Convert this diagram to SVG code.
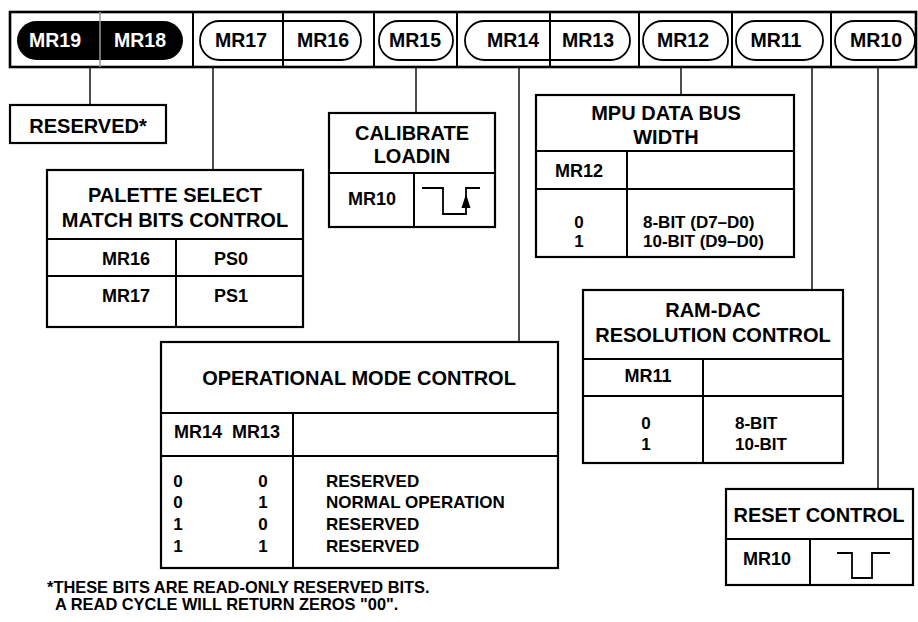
<svg xmlns="http://www.w3.org/2000/svg" width="918" height="622" viewBox="0 0 918 622">
<style>
text{font-family:"Liberation Sans",Arial,sans-serif;font-weight:bold;fill:#000}
.pill{font-size:19.5px;text-anchor:middle}
.ttl{font-size:20px;text-anchor:middle}
.hdr{font-size:18px;text-anchor:middle}
.dat{font-size:17px}
.c{text-anchor:middle}
.box{fill:#fff;stroke:#000;stroke-width:2.2}
.ln{stroke:#000;stroke-width:2;fill:none}
.con{stroke:#000;stroke-width:1.4;fill:none}
.wave{stroke:#000;stroke-width:1.8;fill:none}
.note{font-size:16.4px}
</style>
<rect width="918" height="622" fill="#fff"/>
<g id="register-bar">
<rect x="10" y="12" width="906" height="55" fill="#fff" stroke="#000" stroke-width="2.6"/>
<rect x="17" y="21" width="166" height="39" rx="19.5" fill="#000"/>
<rect x="200" y="21" width="161" height="39" rx="19.5" fill="none" stroke="#000" stroke-width="1.8"/>
<rect x="379" y="21" width="74" height="39" rx="19.5" fill="none" stroke="#000" stroke-width="1.8"/>
<rect x="465" y="21" width="165" height="39" rx="19.5" fill="none" stroke="#000" stroke-width="1.8"/>
<rect x="643" y="21" width="85" height="39" rx="19.5" fill="none" stroke="#000" stroke-width="1.8"/>
<rect x="736" y="21" width="87" height="39" rx="19.5" fill="none" stroke="#000" stroke-width="1.8"/>
<rect x="835" y="21" width="80" height="39" rx="19.5" fill="none" stroke="#000" stroke-width="1.8"/>
<line x1="100" y1="12" x2="100" y2="67" stroke="#999" stroke-width="1.5"/>
<g class="ln">
<line x1="193" y1="12" x2="193" y2="67"/>
<line x1="283" y1="12" x2="283" y2="67"/>
<line x1="374" y1="12" x2="374" y2="67"/>
<line x1="457" y1="12" x2="457" y2="67"/>
<line x1="550" y1="12" x2="550" y2="67"/>
<line x1="639" y1="12" x2="639" y2="67"/>
<line x1="732" y1="12" x2="732" y2="67"/>
<line x1="831" y1="12" x2="831" y2="67"/>
</g>
<text class="pill" x="55" y="47" style="fill:#fff">MR19</text>
<text class="pill" x="140" y="47" style="fill:#fff">MR18</text>
<text class="pill" x="241" y="47">MR17</text>
<text class="pill" x="323" y="47">MR16</text>
<text class="pill" x="415" y="47">MR15</text>
<text class="pill" x="513" y="47">MR14</text>
<text class="pill" x="588" y="47">MR13</text>
<text class="pill" x="683" y="47">MR12</text>
<text class="pill" x="776" y="47">MR11</text>
<text class="pill" x="876" y="47">MR10</text>
</g>
<g id="connectors" class="con">
<line x1="90" y1="67" x2="90" y2="105"/>
<line x1="213" y1="67" x2="213" y2="170"/>
<line x1="416" y1="67" x2="416" y2="113"/>
<line x1="519" y1="67" x2="519" y2="342"/>
<line x1="681" y1="67" x2="681" y2="95"/>
<line x1="812" y1="67" x2="812" y2="290"/>
<line x1="878" y1="67" x2="878" y2="489"/>
</g>
<g id="reserved">
<rect class="box" x="10" y="105" width="156" height="38"/>
<text class="ttl" x="88" y="133">RESERVED*</text>
</g>
<g id="palette-select">
<rect class="box" x="47" y="170" width="256" height="157"/>
<line class="ln" x1="47" y1="239" x2="303" y2="239"/>
<line class="ln" x1="47" y1="276" x2="303" y2="276"/>
<line class="ln" x1="176" y1="239" x2="176" y2="327"/>
<text class="ttl" x="175" y="202">PALETTE SELECT</text>
<text class="ttl" x="175" y="227">MATCH BITS CONTROL</text>
<text class="hdr" x="126" y="265">MR16</text>
<text class="hdr" x="231" y="265">PS0</text>
<text class="hdr" x="126" y="302">MR17</text>
<text class="hdr" x="231" y="302">PS1</text>
</g>
<g id="calibrate-loadin">
<rect class="box" x="329" y="113" width="166" height="114"/>
<line class="ln" x1="329" y1="173" x2="495" y2="173"/>
<line class="ln" x1="414" y1="173" x2="414" y2="227"/>
<text class="ttl" x="412" y="140">CALIBRATE</text>
<text class="ttl" x="412" y="163">LOADIN</text>
<text class="hdr" x="372" y="205">MR10</text>
<polyline class="wave" points="422,188 443,188 443,214 466,214 466,188 480,188"/>
<polygon points="466,194 461.5,208 470.5,208" fill="#000"/>
</g>
<g id="mpu-data-bus-width">
<rect class="box" x="536" y="95" width="258" height="162"/>
<line class="ln" x1="536" y1="151" x2="794" y2="151"/>
<line class="ln" x1="536" y1="189" x2="794" y2="189"/>
<line class="ln" x1="627" y1="151" x2="627" y2="257"/>
<text class="ttl" x="666" y="120">MPU DATA BUS</text>
<text class="ttl" x="666" y="144">WIDTH</text>
<text class="hdr" x="579" y="177">MR12</text>
<text class="dat c" x="579" y="228">0</text>
<text class="dat c" x="579" y="247">1</text>
<text class="dat" x="643" y="228">8-BIT (D7–D0)</text>
<text class="dat" x="643" y="247">10-BIT (D9–D0)</text>
</g>
<g id="ram-dac-resolution">
<rect class="box" x="583" y="290" width="260" height="173"/>
<line class="ln" x1="583" y1="359" x2="843" y2="359"/>
<line class="ln" x1="583" y1="396" x2="843" y2="396"/>
<line class="ln" x1="703" y1="359" x2="703" y2="463"/>
<text class="ttl" x="713" y="317">RAM-DAC</text>
<text class="ttl" x="713" y="342">RESOLUTION CONTROL</text>
<text class="hdr" x="648" y="382">MR11</text>
<text class="dat c" x="646" y="429">0</text>
<text class="dat c" x="646" y="450">1</text>
<text class="dat" x="735" y="429">8-BIT</text>
<text class="dat" x="735" y="450">10-BIT</text>
</g>
<g id="operational-mode">
<rect class="box" x="161" y="342" width="397" height="226"/>
<line class="ln" x1="161" y1="413" x2="558" y2="413"/>
<line class="ln" x1="161" y1="456" x2="558" y2="456"/>
<line class="ln" x1="293" y1="413" x2="293" y2="568"/>
<text class="ttl" x="359" y="385">OPERATIONAL MODE CONTROL</text>
<text class="hdr" x="198" y="438">MR14</text>
<text class="hdr" x="256" y="438">MR13</text>
<text class="dat c" x="178" y="487">0</text>
<text class="dat c" x="263" y="487">0</text>
<text class="dat c" x="178" y="508">0</text>
<text class="dat c" x="263" y="508">1</text>
<text class="dat c" x="178" y="530">1</text>
<text class="dat c" x="263" y="530">0</text>
<text class="dat c" x="178" y="552">1</text>
<text class="dat c" x="263" y="552">1</text>
<text class="dat" x="326" y="487">RESERVED</text>
<text class="dat" x="326" y="508">NORMAL OPERATION</text>
<text class="dat" x="326" y="530">RESERVED</text>
<text class="dat" x="326" y="552">RESERVED</text>
</g>
<g id="reset-control">
<rect class="box" x="726" y="489" width="187" height="96"/>
<line class="ln" x1="726" y1="539" x2="913" y2="539"/>
<line class="ln" x1="810" y1="539" x2="810" y2="585"/>
<text class="ttl" x="819" y="522">RESET CONTROL</text>
<text class="hdr" x="767" y="565">MR10</text>
<polyline class="wave" points="837,553 852,553 852,578 872,578 872,553 890,553"/>
</g>
<g id="footnote">
<text class="note" x="47" y="593">*THESE BITS ARE READ-ONLY RESERVED BITS.</text>
<text class="note" x="55" y="610">A READ CYCLE WILL RETURN ZEROS "00".</text>
</g>
</svg>
